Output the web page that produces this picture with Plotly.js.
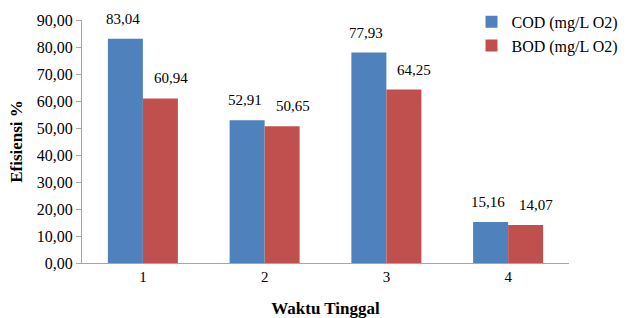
<!DOCTYPE html>
<html>
<head>
<meta charset="utf-8">
<script src="https://cdn.plot.ly/plotly-3.0.1.min.js"></script>
<style>html,body{margin:0;padding:0;background:#fff;}#chart{width:627px;height:318px;}</style>
</head>
<body>
<div id="chart"></div>
<script>
const categories = ["1", "2", "3", "4"];
const codValues = [83.04, 52.91, 77.93, 15.16];
const bodValues = [60.94, 50.65, 64.25, 14.07];
const seriesNames = ["COD (mg/L O2)", "BOD (mg/L O2)"];
const yTickValues = [0, 10, 20, 30, 40, 50, 60, 70, 80, 90];

const FONT = "'Liberation Serif', 'Times New Roman', Times, serif";
const colors = ["#4F81BD", "#C0504D"];

const fmt = v => v.toFixed(2).replace(".", ",");

const traces = [codValues, bodValues].map((vals, i) => ({
  type: "bar",
  name: seriesNames[i],
  x: categories,
  y: vals,
  marker: {color: colors[i]},
  hoverinfo: "none"
}));

const annotations = [];
[codValues, bodValues].forEach((vals, i) => {
  vals.forEach((v, j) => {
    annotations.push({
      xref: "x", yref: "y",
      x: j, y: v,
      text: fmt(v),
      showarrow: false,
      xshift: i === 0 ? -20 : 28,
      yshift: 20,
      yanchor: "middle",
      font: {family: FONT, size: 15, color: "#000"}
    });
  });
});

const layout = {
  width: 627, height: 318,
  margin: {l: 82, r: 58, t: 20, b: 55, autoexpand: false},
  paper_bgcolor: "#fff", plot_bgcolor: "#fff",
  bargap: 0.425, bargroupgap: 0,
  separators: ",.",
  showlegend: true,
  legend: {
    xref: "container", yref: "container",
    x: 0.752, y: 0.985, xanchor: "left", yanchor: "top",
    font: {family: FONT, size: 16, color: "#000"},
    bgcolor: "rgba(0,0,0,0)",
    tracegroupgap: 0,
    itemwidth: 30
  },
  xaxis: {
    type: "category",
    range: [-0.5, 3.5],
    showline: true, linecolor: "#a6a6a6", linewidth: 1,
    showgrid: false, ticks: "",
    tickfont: {family: FONT, size: 15, color: "#000"},
    title: {text: "<b>Waktu Tinggal</b>", font: {family: FONT, size: 17, color: "#000"}, standoff: 18},
    zeroline: false
  },
  yaxis: {
    range: [0, 90],
    tickvals: yTickValues,
    tickformat: ".2f",
    showline: true, linecolor: "#a6a6a6", linewidth: 1,
    showgrid: false, zeroline: false,
    ticks: "outside", ticklen: 5, tickcolor: "#a6a6a6",
    tickfont: {family: FONT, size: 16, color: "#000"},
    title: {text: "<b>Efisiensi %</b>", font: {family: FONT, size: 17, color: "#000"}, standoff: 9}
  },
  annotations: annotations,
  font: {family: FONT}
};

Plotly.newPlot("chart", traces, layout, {staticPlot: true, displayModeBar: false});
</script>
</body>
</html>
